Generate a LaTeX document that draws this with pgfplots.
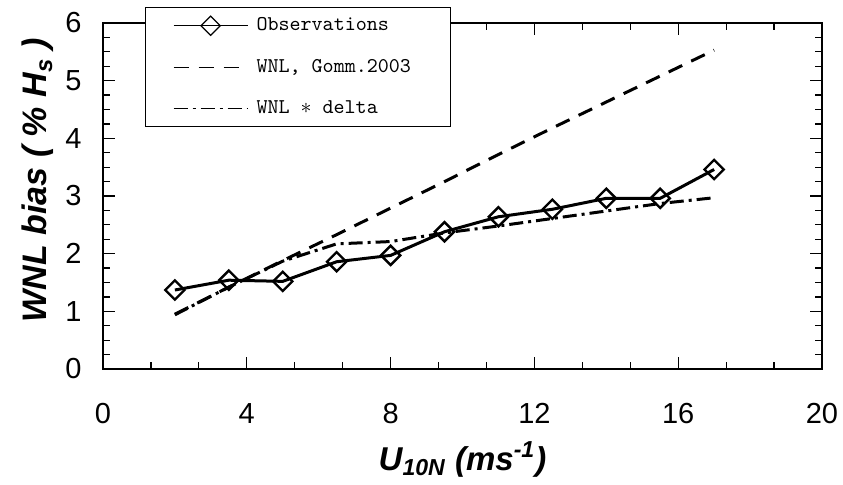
\documentclass[border=0pt]{standalone}
\usepackage{fontspec}
\setmainfont{Liberation Sans}
\usepackage{pgfplots}
\pgfplotsset{compat=1.18}
\begin{document}
\begin{tikzpicture}
\useasboundingbox (-51.5pt,-57.5pt) rectangle (370pt,184.5pt);
\begin{axis}[
  at={(0pt,0pt)}, anchor=south west,
  scale only axis, width=359.5pt, height=173pt,
  xmin=0, xmax=20, ymin=0, ymax=6,
  xtick={0,4,...,20}, ytick={0,1,...,6},
  minor x tick num=2, minor y tick num=3,
  tick align=inside,
  major tick length=6pt, minor tick length=3.5pt,
  axis line style={line width=0.8pt},
  every tick/.style={black, line width=0.6pt},
  /pgf/number format/assume math mode=true,
  ticklabel style={font=\fontsize{14.5}{17}\selectfont},
  xticklabel style={yshift=-13.7pt},
  yticklabel style={xshift=-7.2pt},
  xlabel={\bfseries\itshape U\textsubscript{10N} (ms\textsuperscript{-1})},
  xlabel style={at={(axis description cs:0.5,-0.292)}, anchor=base, font=\fontsize{16.5}{20}\selectfont},
  ylabel={\bfseries\itshape WNL bias ( \% H\textsubscript{s} )},
  ylabel style={at={(axis description cs:-0.078,0.546)}, anchor=base, font=\fontsize{17}{20}\selectfont},
  legend style={at={(axis description cs:0.0584,1.046)}, anchor=north west, draw=black, line width=0.6pt,
    font=\ttfamily\fontsize{10.5}{12}\selectfont, inner xsep=5pt, inner ysep=3pt, row sep=8.7pt, fill=white},
  legend cell align=left,
  legend image code/.code={%
    \path[draw=none] (0pt,0pt) -- (48.5pt,0pt);
    \draw[mark repeat=2,mark phase=2,#1,line width=0.6pt,
      mark options={solid, rotate=45, fill=white, line width=0.6pt}]
      plot coordinates {(9pt,0pt) (27.5pt,0pt) (46pt,0pt)};},
]
\addplot[black, line width=1.5pt, mark=square, mark size=3.4pt, mark options={solid, rotate=45, fill=white, line width=1.2pt}]
  coordinates {(2,1.37)(3.5,1.54)(5,1.52)(6.5,1.86)(8,1.97)(9.5,2.38)(11,2.64)(12.5,2.77)(14,2.96)(15.5,2.96)(17,3.46)};
\addlegendentry{\makebox[90pt][l]{Observations}}
\addplot[black, line width=1.5pt, dash pattern=on 7.5pt off 5pt]
  coordinates {(2,0.95)(3.5,1.42)(5,1.88)(6.5,2.33)(8,2.79)(9.5,3.25)(11,3.72)(12.5,4.18)(14,4.63)(15.5,5.08)(17,5.53)};
\addlegendentry{\makebox[90pt][l]{WNL, Gomm.2003}}
\addplot[black, line width=1.5pt, dash pattern=on 7pt off 2.5pt on 1.5pt off 2.5pt]
  coordinates {(2,0.94)(3.5,1.42)(5,1.87)(6.5,2.17)(8,2.21)(9.5,2.36)(11,2.48)(12.5,2.61)(14,2.74)(15.5,2.87)(17,2.97)};
\addlegendentry{\makebox[90pt][l]{WNL $*$ delta}}
\end{axis}
\end{tikzpicture}
\end{document}
